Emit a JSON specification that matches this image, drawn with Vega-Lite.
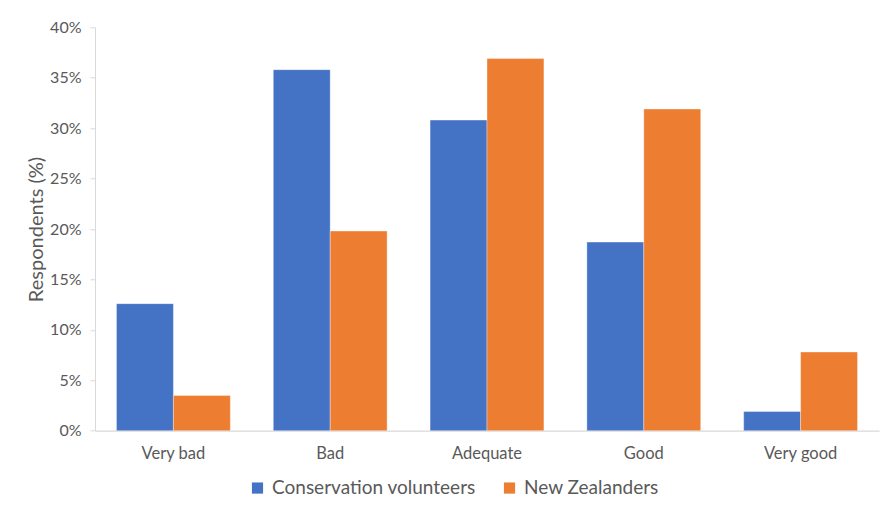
{
  "$schema": "https://vega.github.io/schema/vega-lite/v6.json",
  "autosize": "none",
  "width": 784,
  "height": 403.4,
  "padding": {"left": 95, "top": 27.3, "right": 4, "bottom": 78.3},
  "background": "white",
  "data": {
    "values": [
      {"rating": "Very bad", "group": "Conservation volunteers", "pct": 12.6},
      {"rating": "Very bad", "group": "New Zealanders", "pct": 3.5},
      {"rating": "Bad", "group": "Conservation volunteers", "pct": 35.8},
      {"rating": "Bad", "group": "New Zealanders", "pct": 19.8},
      {"rating": "Adequate", "group": "Conservation volunteers", "pct": 30.8},
      {"rating": "Adequate", "group": "New Zealanders", "pct": 36.9},
      {"rating": "Good", "group": "Conservation volunteers", "pct": 18.7},
      {"rating": "Good", "group": "New Zealanders", "pct": 31.9},
      {"rating": "Very good", "group": "Conservation volunteers", "pct": 1.9},
      {"rating": "Very good", "group": "New Zealanders", "pct": 7.8}
    ]
  },
  "mark": {"type": "bar", "stroke": "white", "strokeWidth": 0.6, "strokeOpacity": 0.6},
  "encoding": {
    "x": {
      "field": "rating",
      "type": "nominal",
      "sort": ["Very bad", "Bad", "Adequate", "Good", "Very good"],
      "scale": {"paddingInner": 0.274, "paddingOuter": 0.137},
      "axis": {
        "title": null,
        "labelAngle": 0,
        "ticks": false,
        "domainColor": "#d9d9d9",
        "domainWidth": 1.2,
        "labelColor": "#595959",
        "labelFont": "Lato",
        "labelFontSize": 16.5,
        "labelPadding": 15
      }
    },
    "xOffset": {
      "field": "group",
      "type": "nominal",
      "sort": ["Conservation volunteers", "New Zealanders"],
      "scale": {"paddingInner": 0, "paddingOuter": 0}
    },
    "y": {
      "field": "pct",
      "type": "quantitative",
      "scale": {"domain": [0, 40], "nice": false},
      "axis": {
        "title": "Respondents (%)",
        "values": [0, 5, 10, 15, 20, 25, 30, 35, 40],
        "labelExpr": "datum.value + '%'",
        "grid": false,
        "domainColor": "#d9d9d9",
        "tickColor": "#d9d9d9",
        "tickSize": 5,
        "labelColor": "#595959",
        "labelFont": "Lato",
        "labelFontSize": 16,
        "labelPadding": 9,
        "titleColor": "#595959",
        "titleFont": "Lato",
        "titleFontSize": 20,
        "titleFontWeight": "normal",
        "titleX": -49,
        "titleY": 201.7
      }
    },
    "color": {
      "field": "group",
      "type": "nominal",
      "sort": ["Conservation volunteers", "New Zealanders"],
      "scale": {"range": ["#4472C4", "#ED7D31"]},
      "legend": {
        "title": null,
        "orient": "none",
        "direction": "horizontal",
        "legendX": 153,
        "legendY": 451,
        "symbolType": "square",
        "symbolSize": 125,
        "symbolStrokeWidth": 0,
        "symbolOpacity": 1,
        "labelColor": "#595959",
        "labelFont": "Lato",
        "labelFontSize": 19,
        "labelOffset": 5,
        "labelLimit": 0,
        "columnPadding": 24
      }
    }
  },
  "config": {"view": {"stroke": null}}
}
